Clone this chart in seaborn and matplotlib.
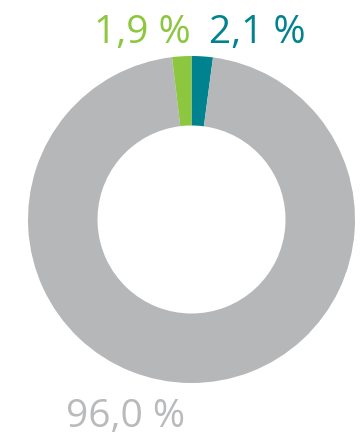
import matplotlib
matplotlib.use("Agg")
import matplotlib.pyplot as plt
import seaborn as sns

categories = ["Teal", "Grey", "Green"]
values = [2.1, 96.0, 1.9]
labels = ["2,1 %", "96,0 %", "1,9 %"]
colors = ["#00838F", "#B6B7B9", "#8DC63F"]
text_colors = ["#00838F", "#B9BABC", "#8DC63F"]

sns.set_theme(style="white")
plt.rcParams['font.family'] = ['Open Sans', 'DejaVu Sans']

W, H = 360, 436
fig = plt.figure(figsize=(W / 100, H / 100), dpi=100)
ax = fig.add_axes([0, 0, 1, 1])

R = 163.5
cx, cy = 191.5, 219.5
ax.pie(values, colors=colors, startangle=90, counterclock=False,
       radius=1.0, wedgeprops=dict(width=(163.5 - 94) / 163.5, linewidth=0))
ax.set_aspect('auto')
ax.set_xlim(-cx / R, (W - cx) / R)
ax.set_ylim(-(H - cy) / R, cy / R)
ax.axis('off')

def px(x, y):
    return x / W, 1 - y / H

pos = [(257, 43), (126, 427), (142, 43)]
for lab, col, (x, y) in zip(labels, text_colors, pos):
    fx, fy = px(x, y)
    fig.text(fx, fy, lab, color=col, fontsize=28, ha='center', va='baseline')

fig.savefig("out.png", dpi=100)
